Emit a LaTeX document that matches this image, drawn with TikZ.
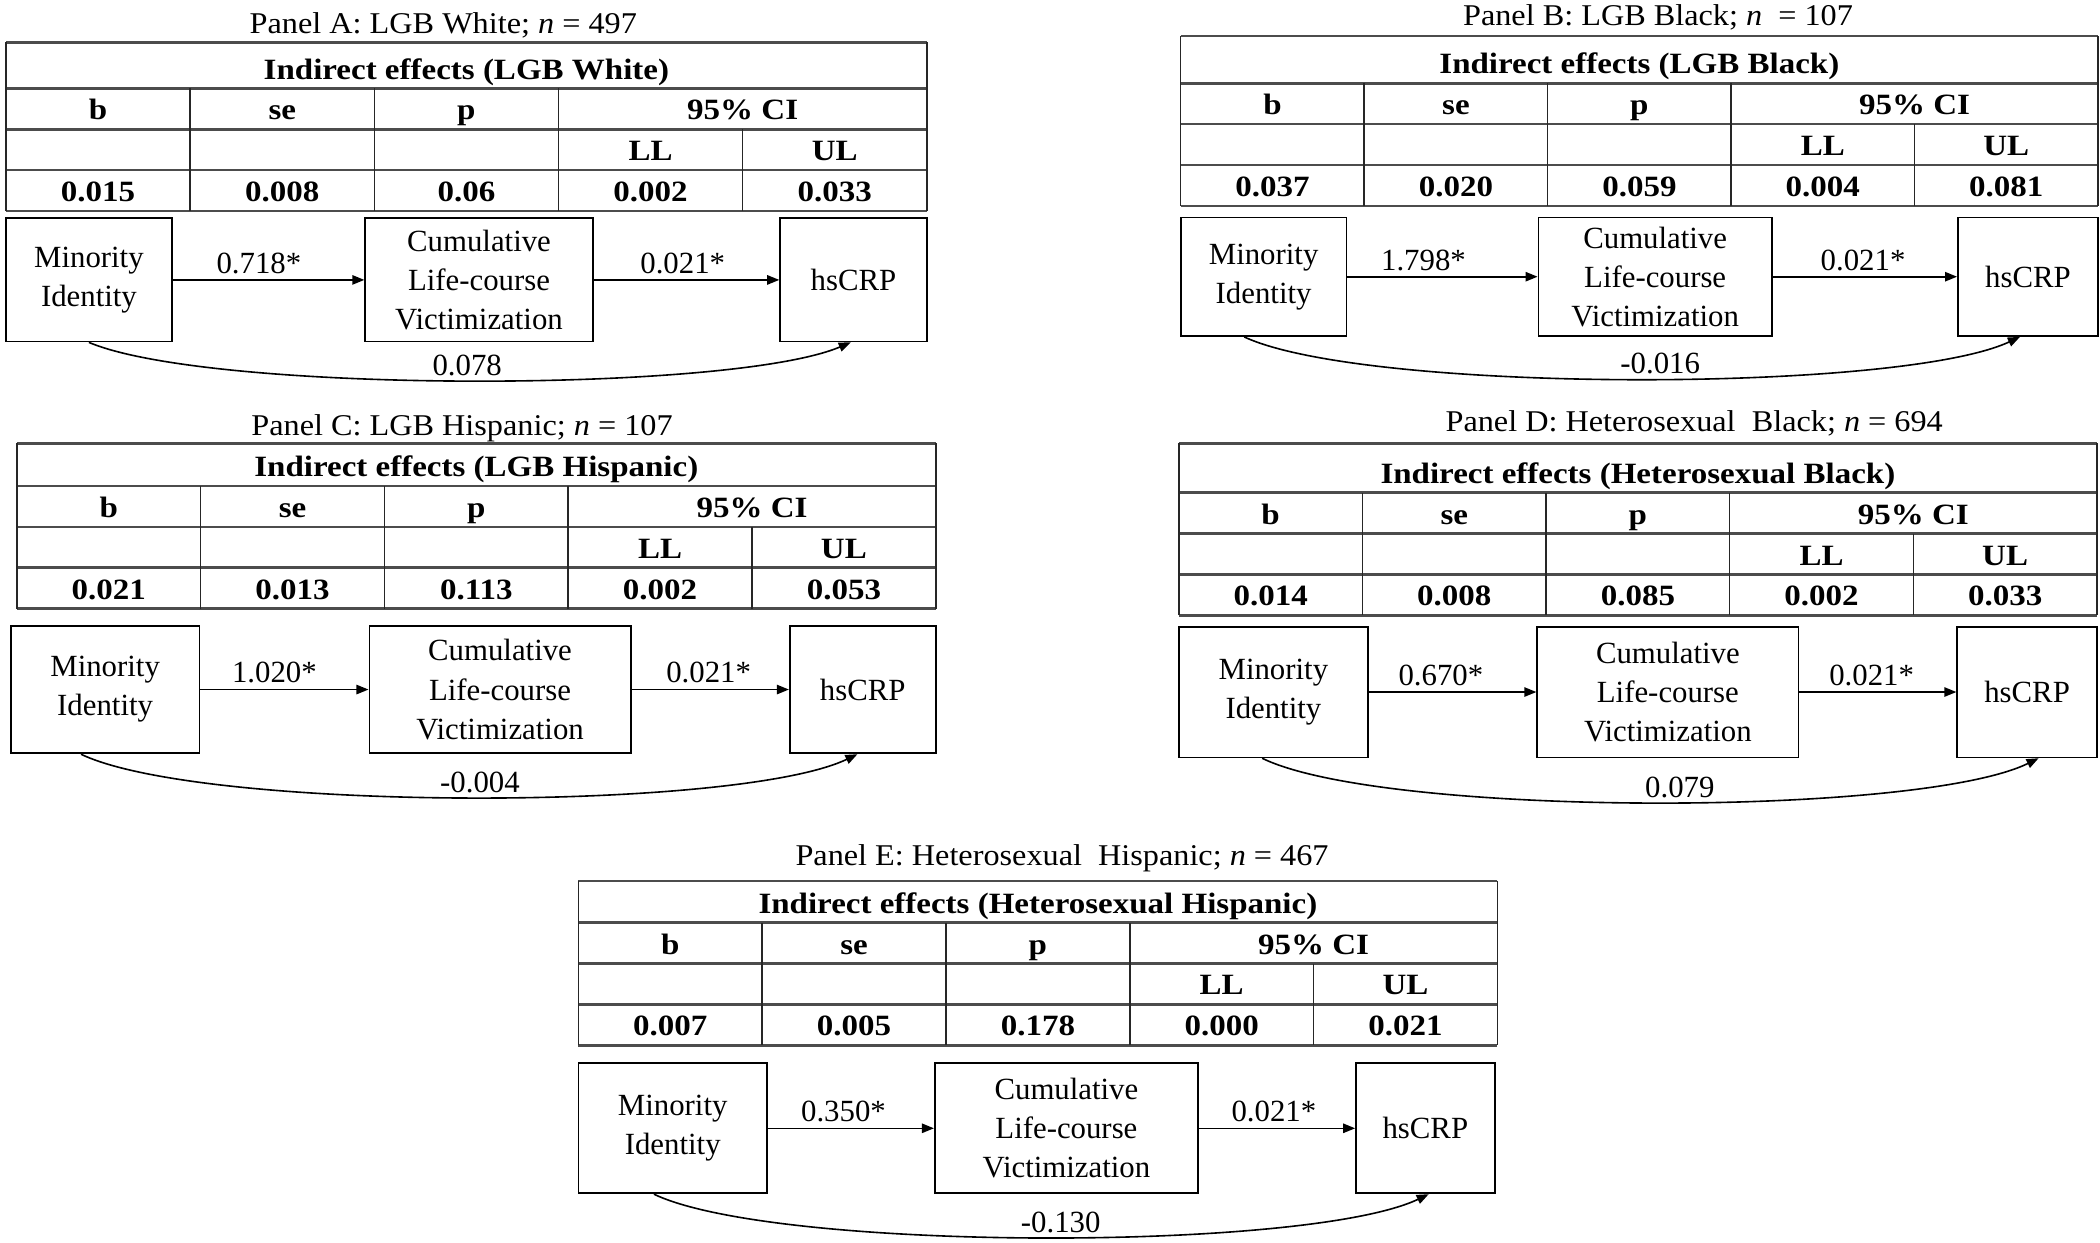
\documentclass[tikz,border=0pt]{standalone}
\usepackage{fontspec}
\setmainfont{Liberation Serif}
\newfontfamily\titfont{Liberation Serif}[FakeStretch=1.07]
\newfontfamily\tabfont{Liberation Serif}[FakeStretch=1.12]
\usetikzlibrary{arrows.meta}
\tikzset{
 hline/.style={line width=2pt, draw=black!70},
 vline/.style={line width=1.1pt, draw=black!85},
 boxst/.style={draw, line width=1.3pt, align=center, inner sep=0pt, font=\fontsize{23}{29.2}\selectfont},
 tabtxt/.style={anchor=base, inner sep=0pt, font=\tabfont\bfseries\fontsize{22}{26}\selectfont},
 titletxt/.style={anchor=base, inner sep=0pt, font=\titfont\fontsize{22.5}{26}\selectfont},
 arr/.style={line width=1.2pt, -{Triangle[length=9pt,width=7pt]}},
 lbl/.style={anchor=base, inner sep=0pt, yshift=5pt, font=\fontsize{23}{26}\selectfont},
 clbl/.style={anchor=base, inner sep=0pt, yshift=4pt, font=\fontsize{23}{26}\selectfont},
}
\newcommand\mytable[6]{%
 \pgfmathsetmacro\PXl{#2}\pgfmathsetmacro\PXr{#3}%
 \pgfmathsetmacro\PW{(#3-#2)/5}%
 \pgfmathsetmacro\PYa{#4}\pgfmathsetmacro\PYb{#4+#5}%
 \pgfmathsetmacro\PYc{\PYb+30.5}\pgfmathsetmacro\PYd{\PYc+30.5}\pgfmathsetmacro\PYe{\PYd+30.5}%
 \xdef\gtl{\PXl}\xdef\gtw{\PW}\xdef\gye{\PYe}%
 \foreach \yy in {\PYa,\PYb,\PYc,\PYd,\PYe}{\draw[hline] (\PXl,\yy) -- (\PXr,\yy);}
 \draw[vline] (\PXl,\PYa) -- (\PXl,\PYe);
 \draw[vline] (\PXr,\PYa) -- (\PXr,\PYe);
 \foreach \kk in {1,2,3}{\draw[vline] ({\PXl+\kk*\PW},\PYb) -- ({\PXl+\kk*\PW},\PYe);}
 \draw[vline] ({\PXl+4*\PW},\PYc) -- ({\PXl+4*\PW},\PYe);
 \node[tabtxt] (#1hdr) at ({(\PXl+\PXr)/2},{\PYb-7}) {#6};
 \node[tabtxt] (#1b) at ({\PXl+0.5*\PW},{\PYc-7}) {b};
 \node[tabtxt] (#1se) at ({\PXl+1.5*\PW},{\PYc-7}) {se};
 \node[tabtxt] (#1p) at ({\PXl+2.5*\PW},{\PYc-7}) {p};
 \node[tabtxt] (#1ci) at ({\PXl+4*\PW},{\PYc-7}) {95\% CI};
 \node[tabtxt] (#1ll) at ({\PXl+3.5*\PW},{\PYd-7}) {LL};
 \node[tabtxt] (#1ul) at ({\PXl+4.5*\PW},{\PYd-7}) {UL};
}
\newcommand\myvals[6]{%
 \foreach \vv [count=\ii from 0] in {#2,#3,#4,#5,#6}{\node[tabtxt] (#1v\ii) at ({\gtl+(\ii+0.5)*\gtw},{\gye-7}) {\vv};}
}
\newcommand\mybox[6]{%
 \pgfmathsetmacro\PBx{(#2+#3)/2}\pgfmathsetmacro\PBy{(#4+#5)/2}%
 \pgfmathsetmacro\PBw{#3-#2}\pgfmathsetmacro\PBh{#5-#4}%
 \node[boxst, minimum width=\PBw pt, minimum height=\PBh pt] (#1) at (\PBx,\PBy) {#6};
}
\begin{document}
\begin{tikzpicture}[x=1pt,y=-1pt]
\fill[white] (0,0) rectangle (1568,927.4);
\useasboundingbox (0,0) rectangle (1568,927.4);

% Panel A
\node[titletxt] (Atitle) at (331,24.9) {Panel A: LGB White; \textit{n} = 497};
\mytable{A}{4.5}{692}{31.6}{34.4}{Indirect effects (LGB White)}
\myvals{A}{0.015}{0.008}{0.06}{0.002}{0.033}
\mybox{A1}{4.5}{128.3}{163}{255}{Minority\\Identity}
\mybox{A2}{272.7}{442.6}{163}{255}{Cumulative\\Life-course\\Victimization}
\mybox{A3}{582.5}{692}{163}{255}{hsCRP}
\draw[arr] (A1) -- node[lbl,pos=0.45]{0.718*} (A2);
\draw[arr] (A2) -- node[lbl,pos=0.48]{0.021*} (A3);
\draw[arr] (A1.south) .. controls +(90,38) and +(-90,38) .. node[clbl,pos=0.5,xshift=-2pt]{0.078} ([xshift=-2pt]A3.south);

% Panel B
\node[titletxt] (Btitle) at (1238,18.7) {Panel B: LGB Black; \textit{n}\ \ = 107};
\mytable{B}{881.6}{1566.5}{26.9}{35.3}{Indirect effects (LGB Black)}
\myvals{B}{0.037}{0.020}{0.059}{0.004}{0.081}
\mybox{B1}{881.6}{1005.4}{162.3}{250.9}{Minority\\Identity}
\mybox{B2}{1148.7}{1323}{162.3}{250.9}{Cumulative\\Life-course\\Victimization}
\mybox{B3}{1461.9}{1566.5}{162.3}{250.9}{hsCRP}
\draw[arr] (B1) -- node[lbl,pos=0.40]{1.798*} (B2);
\draw[arr] (B2) -- node[lbl,pos=0.49]{0.021*} (B3);
\draw[arr] ([xshift=-14.5pt]B1.south) .. controls +(90,42) and +(-90,42) .. node[clbl,pos=0.5,xshift=21pt]{-0.016} ([xshift=-6pt]B3.south);

% Panel C
\node[titletxt] (Ctitle) at (345,325.5) {Panel C: LGB Hispanic; \textit{n} = 107};
\mytable{C}{12.6}{698.7}{331}{31.9}{Indirect effects (LGB Hispanic)}
\myvals{C}{0.021}{0.013}{0.113}{0.002}{0.053}
\mybox{C1}{8}{149}{467.2}{562.5}{Minority\\Identity}
\mybox{C2}{275.8}{470.9}{467.2}{562.5}{Cumulative\\Life-course\\Victimization}
\mybox{C3}{589.7}{698.7}{467.2}{562.5}{hsCRP}
\draw[arr] (C1) -- node[lbl,pos=0.44]{1.020*} (C2);
\draw[arr] (C2) -- node[lbl,pos=0.49]{0.021*} (C3);
\draw[arr] ([xshift=-18pt]C1.south) .. controls +(90,43) and +(-90,43) .. node[clbl,pos=0.5,xshift=8pt]{-0.004} ([xshift=-4pt]C3.south);

% Panel D
\node[titletxt] (Dtitle) at (1265,322.3) {Panel D: Heterosexual\ \ Black; \textit{n} = 694};
\mytable{D}{880.2}{1565.7}{331}{36.9}{Indirect effects (Heterosexual Black)}
\myvals{D}{0.014}{0.008}{0.085}{0.002}{0.033}
\mybox{D1}{880.2}{1021.4}{467.9}{565.5}{Minority\\Identity}
\mybox{D2}{1147.8}{1342.9}{467.9}{565.5}{Cumulative\\Life-course\\Victimization}
\mybox{D3}{1461.4}{1565.7}{467.9}{565.5}{hsCRP}
\draw[arr] (D1) -- node[lbl,pos=0.43]{0.670*} (D2);
\draw[arr] (D2) -- node[lbl,pos=0.46]{0.021*} (D3);
\draw[arr] ([xshift=-8.4pt]D1.south) .. controls +(90,44) and +(-90,44) .. node[clbl,pos=0.5,xshift=22pt]{0.079} ([xshift=8.6pt]D3.south);

% Panel E
\node[titletxt] (Etitle) at (793,645.9) {Panel E: Heterosexual\ \ Hispanic; \textit{n} = 467};
\mytable{E}{431.9}{1118}{657.8}{31.1}{Indirect effects (Heterosexual Hispanic)}
\myvals{E}{0.007}{0.005}{0.178}{0.000}{0.021}
\mybox{E1}{431.9}{572.7}{793.9}{891}{Minority\\Identity}
\mybox{E2}{698}{894.5}{793.9}{891}{Cumulative\\Life-course\\Victimization}
\mybox{E3}{1012.5}{1116}{793.9}{891}{hsCRP}
\draw[arr] (E1) -- node[lbl,pos=0.455]{0.350*} (E2);
\draw[arr] (E2) -- node[lbl,pos=0.48]{0.021*} (E3);
\draw[arr] ([xshift=-14pt]E1.south) .. controls +(90,43) and +(-90,43) .. node[clbl,pos=0.5,xshift=14.5pt]{-0.130} ([xshift=2.5pt]E3.south);
\end{tikzpicture}
\end{document}
